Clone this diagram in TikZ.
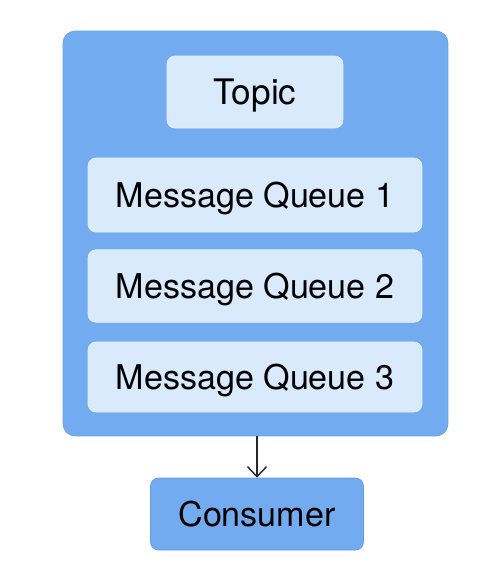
\documentclass[tikz,border=0pt]{standalone}
\usepackage{fontspec}
\setmainfont{TeX Gyre Heros}
\usepackage{tikz}
\usetikzlibrary{arrows.meta,positioning}

\definecolor{outerblue}{HTML}{72ABEF}
\definecolor{lightblue}{HTML}{D8EAFC}
\definecolor{edgeblue}{HTML}{5E9BE6}

\tikzset{
  groupbox/.style={draw=outerblue!95!black,fill=outerblue,rounded corners=0.24cm,
    minimum width=7.7cm,minimum height=8.1cm},
  itembox/.style={draw=white!40!lightblue,fill=lightblue,rounded corners=0.16cm,
    minimum width=6.68cm,minimum height=1.45cm,font=\fontsize{19.4}{22}\selectfont,
    text height=13.9pt,text depth=0pt},
  endbox/.style={draw=edgeblue,fill=outerblue,rounded corners=0.16cm,
    minimum width=4.26cm,minimum height=1.44cm,font=\fontsize{19.4}{22}\selectfont,
    text height=13.9pt,text depth=0pt}
}

\begin{document}
\begin{tikzpicture}[x=0.02cm,y=-0.02cm]
  \path[use as bounding box] (0,0) rectangle (489,586);
  \node[groupbox] (group) at (255.5,233.5) {};
  \node[itembox,minimum width=3.52cm,minimum height=1.44cm,
    font=\fontsize{20}{24}\selectfont,text height=14.4pt] (topic) at (255,92) {Topic};
  \node[itembox,minimum height=1.48cm] (mq1) at (255,195) {Message Queue 1};
  \node[itembox] (mq2) at (255,286) {Message Queue 2};
  \node[itembox,minimum height=1.4cm] (mq3) at (255,377) {Message Queue 3};
  \node[endbox] (consumer) at (257,514) {Consumer};
  \draw[-{Straight Barb[length=2mm,width=3.8mm]},line width=0.8pt,black!85]
    (group.south -| consumer) -- (consumer.north);
\end{tikzpicture}
\end{document}
